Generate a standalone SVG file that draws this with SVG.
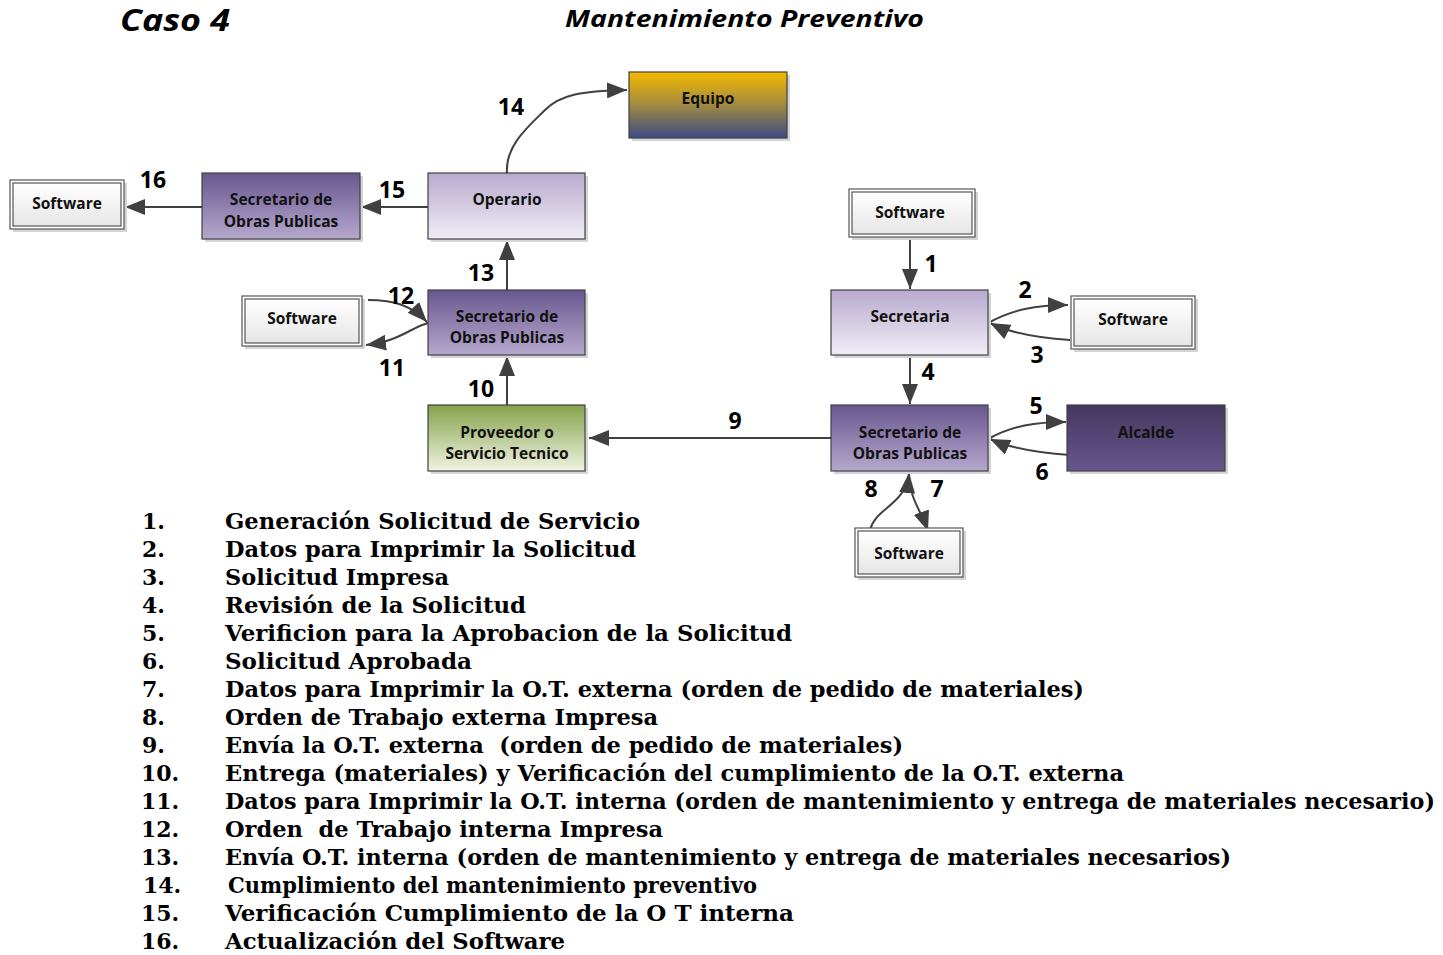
<svg xmlns="http://www.w3.org/2000/svg" width="1443" height="955" viewBox="0 0 1443 955">
  <style>
    .title { font-family: "Open Sans", "Liberation Sans", sans-serif; font-weight: 700; font-style: italic; fill: #000; }
    .node-text { font-family: "Open Sans", "Liberation Sans", sans-serif; font-weight: 700; font-size: 15.5px; fill: #111; text-anchor: middle; }
    .num { font-family: "Open Sans", "Liberation Sans", sans-serif; font-weight: 700; font-size: 23px; fill: #000; text-anchor: middle; }
    .list { font-family: "DejaVu Serif", "Liberation Serif", serif; font-weight: 700; font-size: 22px; fill: #000; }
    .box { stroke: #404040; stroke-width: 1.2; }
    .shadow { fill: #d4d4d4; }
    .sw-outer { fill: #fff; stroke: #555; stroke-width: 1.2; }
    .sw-inner { fill: url(#gSoft); stroke: #555; stroke-width: 1.2; }
    .conn { fill: none; stroke: #404040; stroke-width: 2; }
  </style>
  <defs>
    <linearGradient id="gLight" x1="0" y1="0" x2="0" y2="1">
      <stop offset="0" stop-color="#b8aacf"/>
      <stop offset="1" stop-color="#f0edf5"/>
    </linearGradient>
    <linearGradient id="gDark" x1="0" y1="0" x2="0" y2="1">
      <stop offset="0" stop-color="#68578f"/>
      <stop offset="1" stop-color="#b5a8cd"/>
    </linearGradient>
    <linearGradient id="gAlcalde" x1="0" y1="0" x2="0" y2="1">
      <stop offset="0" stop-color="#46375f"/>
      <stop offset="1" stop-color="#67568e"/>
    </linearGradient>
    <linearGradient id="gGreen" x1="0" y1="0" x2="0" y2="1">
      <stop offset="0" stop-color="#86a24a"/>
      <stop offset="1" stop-color="#eff3e2"/>
    </linearGradient>
    <linearGradient id="gEquipo" x1="0" y1="0" x2="0" y2="1">
      <stop offset="0" stop-color="#f6b900"/>
      <stop offset="0.5" stop-color="#a08a40"/>
      <stop offset="1" stop-color="#3c4a86"/>
    </linearGradient>
    <linearGradient id="gSoft" x1="0" y1="0" x2="0" y2="1">
      <stop offset="0" stop-color="#ffffff"/>
      <stop offset="1" stop-color="#e6e6e6"/>
    </linearGradient>
    <marker id="arrow" markerUnits="userSpaceOnUse" markerWidth="22" markerHeight="16" refX="20" refY="8" orient="auto">
      <path d="M0,0 L20,8 L0,16 Z" fill="#404040"/>
    </marker>
  </defs>

  <!-- titles -->
  <text class="title" x="120" y="31" font-size="31" textLength="110" lengthAdjust="spacingAndGlyphs">Caso 4</text>
  <text class="title" x="565" y="27" font-size="24" textLength="359" lengthAdjust="spacingAndGlyphs">Mantenimiento Preventivo</text>

  <!-- connectors -->
  <g id="connectors">
    <path class="conn" d="M910,238 L910,289" marker-end="url(#arrow)"/>
    <path class="conn" d="M990,322 C1012,310 1035,305 1068,305" marker-end="url(#arrow)"/>
    <path class="conn" d="M1070,340 C1040,338 1012,334 990,323" marker-end="url(#arrow)"/>
    <path class="conn" d="M910,356 L910,404" marker-end="url(#arrow)"/>
    <path class="conn" d="M990,438 C1012,426 1035,422 1066,422" marker-end="url(#arrow)"/>
    <path class="conn" d="M1070,455 C1040,453 1012,449 990,439" marker-end="url(#arrow)"/>
    <path class="conn" d="M909,474 C910,500 920,508 928,531" marker-end="url(#arrow)"/>
    <path class="conn" d="M870,530 C875,508 906,505 909,473" marker-end="url(#arrow)"/>
    <path class="conn" d="M831,438 L589,438" marker-end="url(#arrow)"/>
    <path class="conn" d="M507,405 L507,356" marker-end="url(#arrow)"/>
    <path class="conn" d="M428,323 C410,328 400,341 366,345" marker-end="url(#arrow)"/>
    <path class="conn" d="M368,300 C395,300 412,306 427,322" marker-end="url(#arrow)"/>
    <path class="conn" d="M507,290 L507,240" marker-end="url(#arrow)"/>
    <path class="conn" d="M507,173 C505,145 530,125 545,110 C560,95 580,91 627,90" marker-end="url(#arrow)"/>
    <path class="conn" d="M428,207 L361,207" marker-end="url(#arrow)"/>
    <path class="conn" d="M202,207 L125,207" marker-end="url(#arrow)"/>
  </g>

  <!-- step numbers on the connectors -->
  <g id="step-labels">
    <text class="num" x="931" y="272">1</text>
    <text class="num" x="1025" y="298">2</text>
    <text class="num" x="1037" y="363">3</text>
    <text class="num" x="928" y="380">4</text>
    <text class="num" x="1036" y="414">5</text>
    <text class="num" x="1042" y="480">6</text>
    <text class="num" x="937" y="497">7</text>
    <text class="num" x="871" y="497">8</text>
    <text class="num" x="735" y="429">9</text>
    <text class="num" x="481" y="397">10</text>
    <text class="num" x="392" y="376">11</text>
    <text class="num" x="401" y="304">12</text>
    <text class="num" x="481" y="281">13</text>
    <text class="num" x="511" y="115">14</text>
    <text class="num" x="392" y="198">15</text>
    <text class="num" x="153" y="188">16</text>
  </g>

  <!-- nodes -->
  <g id="equipo">
    <rect class="shadow" x="632" y="75" width="158" height="66"/>
    <rect class="box" x="629" y="72" width="158" height="66" fill="url(#gEquipo)"/>
    <text class="node-text" x="708" y="104">Equipo</text>
  </g>

  <g id="operario">
    <rect class="shadow" x="431" y="176" width="157" height="66"/>
    <rect class="box" x="428" y="173" width="157" height="66" fill="url(#gLight)"/>
    <text class="node-text" x="507" y="205">Operario</text>
  </g>

  <g id="secretario-obras-1">
    <rect class="shadow" x="205" y="176" width="158" height="66"/>
    <rect class="box" x="202" y="173" width="158" height="66" fill="url(#gDark)"/>
    <text class="node-text" x="281" y="205">Secretario de</text>
    <text class="node-text" x="281" y="227">Obras Publicas</text>
  </g>

  <g id="software-16">
    <rect class="shadow" x="13" y="183" width="114" height="49"/>
    <rect class="sw-outer" x="10" y="180" width="114" height="49"/>
    <rect class="sw-inner" x="13" y="183" width="108" height="43"/>
    <text class="node-text" x="67" y="209">Software</text>
  </g>

  <g id="software-12">
    <rect class="shadow" x="245" y="299" width="120" height="50"/>
    <rect class="sw-outer" x="242" y="296" width="120" height="50"/>
    <rect class="sw-inner" x="245" y="299" width="114" height="44"/>
    <text class="node-text" x="302" y="324">Software</text>
  </g>

  <g id="secretario-obras-2">
    <rect class="shadow" x="431" y="293" width="157" height="65"/>
    <rect class="box" x="428" y="290" width="157" height="65" fill="url(#gDark)"/>
    <text class="node-text" x="507" y="322">Secretario de</text>
    <text class="node-text" x="507" y="343">Obras Publicas</text>
  </g>

  <g id="proveedor">
    <rect class="shadow" x="431" y="408" width="157" height="66"/>
    <rect class="box" x="428" y="405" width="157" height="66" fill="url(#gGreen)"/>
    <text class="node-text" x="507" y="438">Proveedor o</text>
    <text class="node-text" x="507" y="459">Servicio Tecnico</text>
  </g>

  <g id="software-1">
    <rect class="shadow" x="852" y="192" width="126" height="48"/>
    <rect class="sw-outer" x="849" y="189" width="126" height="48"/>
    <rect class="sw-inner" x="852" y="192" width="120" height="42"/>
    <text class="node-text" x="910" y="218">Software</text>
  </g>

  <g id="secretaria">
    <rect class="shadow" x="834" y="293" width="157" height="65"/>
    <rect class="box" x="831" y="290" width="157" height="65" fill="url(#gLight)"/>
    <text class="node-text" x="910" y="322">Secretaria</text>
  </g>

  <g id="software-2">
    <rect class="shadow" x="1074" y="299" width="124" height="53"/>
    <rect class="sw-outer" x="1071" y="296" width="124" height="53"/>
    <rect class="sw-inner" x="1074" y="299" width="118" height="47"/>
    <text class="node-text" x="1133" y="325">Software</text>
  </g>

  <g id="secretario-obras-3">
    <rect class="shadow" x="834" y="408" width="157" height="66"/>
    <rect class="box" x="831" y="405" width="157" height="66" fill="url(#gDark)"/>
    <text class="node-text" x="910" y="438">Secretario de</text>
    <text class="node-text" x="910" y="459">Obras Publicas</text>
  </g>

  <g id="alcalde">
    <rect class="shadow" x="1070" y="408" width="158" height="66"/>
    <rect class="box" x="1067" y="405" width="158" height="66" fill="url(#gAlcalde)"/>
    <text class="node-text" x="1146" y="438">Alcalde</text>
  </g>

  <g id="software-7">
    <rect class="shadow" x="858" y="531" width="108" height="49"/>
    <rect class="sw-outer" x="855" y="528" width="108" height="49"/>
    <rect class="sw-inner" x="858" y="531" width="102" height="43"/>
    <text class="node-text" x="909" y="559">Software</text>
  </g>

  <!-- numbered legend of the steps -->
  <g id="legend">
    <text class="list" x="142" y="529">1.</text>
    <text class="list" x="225" y="529" textLength="415" lengthAdjust="spacingAndGlyphs">Generación Solicitud de Servicio</text>
    <text class="list" x="142" y="557">2.</text>
    <text class="list" x="225" y="557" textLength="411" lengthAdjust="spacingAndGlyphs">Datos para Imprimir la Solicitud</text>
    <text class="list" x="142" y="585">3.</text>
    <text class="list" x="225" y="585" textLength="224" lengthAdjust="spacingAndGlyphs">Solicitud Impresa</text>
    <text class="list" x="142" y="613">4.</text>
    <text class="list" x="225" y="613" textLength="301" lengthAdjust="spacingAndGlyphs">Revisión de la Solicitud</text>
    <text class="list" x="142" y="641">5.</text>
    <text class="list" x="225" y="641" textLength="567" lengthAdjust="spacingAndGlyphs">Verificion para la Aprobacion de la Solicitud</text>
    <text class="list" x="142" y="669">6.</text>
    <text class="list" x="225" y="669" textLength="247" lengthAdjust="spacingAndGlyphs">Solicitud Aprobada</text>
    <text class="list" x="142" y="697">7.</text>
    <text class="list" x="225" y="697" textLength="859" lengthAdjust="spacingAndGlyphs">Datos para Imprimir la O.T. externa (orden de pedido de materiales)</text>
    <text class="list" x="142" y="725">8.</text>
    <text class="list" x="225" y="725" textLength="433" lengthAdjust="spacingAndGlyphs">Orden de Trabajo externa Impresa</text>
    <text class="list" x="142" y="753">9.</text>
    <text class="list" x="225" y="753" textLength="678" lengthAdjust="spacingAndGlyphs" xml:space="preserve">Envía la O.T. externa  (orden de pedido de materiales)</text>
    <text class="list" x="141" y="781">10.</text>
    <text class="list" x="225" y="781" textLength="899" lengthAdjust="spacingAndGlyphs">Entrega (materiales) y Verificación del cumplimiento de la O.T. externa</text>
    <text class="list" x="141" y="809">11.</text>
    <text class="list" x="225" y="809" textLength="1210" lengthAdjust="spacingAndGlyphs">Datos para Imprimir la O.T. interna (orden de mantenimiento y entrega de materiales necesario)</text>
    <text class="list" x="141" y="837">12.</text>
    <text class="list" x="225" y="837" textLength="438" lengthAdjust="spacingAndGlyphs" xml:space="preserve">Orden  de Trabajo interna Impresa</text>
    <text class="list" x="141" y="865">13.</text>
    <text class="list" x="225" y="865" textLength="1006" lengthAdjust="spacingAndGlyphs">Envía O.T. interna (orden de mantenimiento y entrega de materiales necesarios)</text>
    <text class="list" x="143" y="893">14.</text>
    <text class="list" x="228" y="893" textLength="529" lengthAdjust="spacingAndGlyphs">Cumplimiento del mantenimiento preventivo</text>
    <text class="list" x="141" y="921">15.</text>
    <text class="list" x="225" y="921" textLength="569" lengthAdjust="spacingAndGlyphs">Verificación Cumplimiento de la O T interna</text>
    <text class="list" x="141" y="949">16.</text>
    <text class="list" x="225" y="949" textLength="340" lengthAdjust="spacingAndGlyphs">Actualización del Software</text>
  </g>
</svg>
